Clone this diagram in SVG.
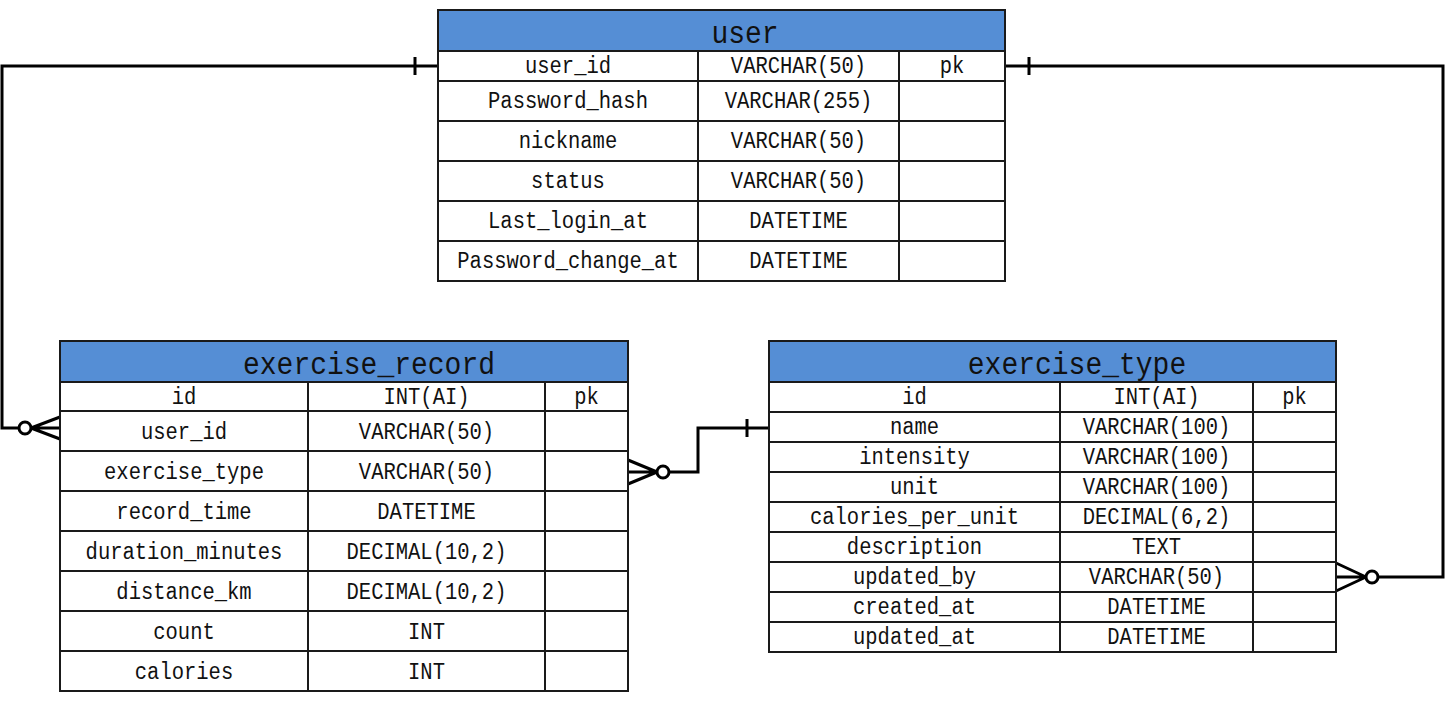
<svg xmlns="http://www.w3.org/2000/svg" width="1445" height="702" viewBox="0 0 1445 702">
<style>
.box{fill:#ffffff;stroke:#1a1a1a;stroke-width:2}
.hdr{fill:#558ed5;stroke:#1a1a1a;stroke-width:2}
.ln{stroke:#1a1a1a;stroke-width:2;fill:none}
.t{font-family:"Liberation Mono","DejaVu Sans Mono",monospace;font-size:23px;fill:#111;text-anchor:middle;dominant-baseline:central}
.ttl{font-family:"Liberation Mono","DejaVu Sans Mono",monospace;font-size:31px;fill:#111;text-anchor:middle;dominant-baseline:central}
.c{stroke:#000;stroke-width:3;fill:none}
.o{stroke:#000;stroke-width:3;fill:#fff}
</style>
<rect width="1445" height="702" fill="#fff"/>

<g id="connectors">
  <path class="c" d="M438,66 H2 V428 H19"/>
  <line class="c" x1="415" y1="57" x2="415" y2="75"/>
  <path class="c" d="M31,428 L60,417 M31,428 L60,428 M31,428 L60,439"/>
  <circle class="o" cx="25" cy="428" r="6"/>

  <path class="c" d="M1005,66 H1443 V577 H1378"/>
  <line class="c" x1="1029" y1="57" x2="1029" y2="75"/>
  <path class="c" d="M1366,577 L1336,563 M1366,577 L1336,577 M1366,577 L1336,591"/>
  <circle class="o" cx="1372" cy="577" r="6"/>

  <path class="c" d="M669,472 H698 V428 H769"/>
  <line class="c" x1="747" y1="419" x2="747" y2="437"/>
  <path class="c" d="M657,472 L628,460 M657,472 L628,472 M657,472 L628,484"/>
  <circle class="o" cx="663" cy="472" r="6"/>
</g>

<g id="user">
  <rect class="box" x="438" y="10" width="567" height="271"/>
  <rect class="hdr" x="438" y="10" width="567" height="41"/>
  <path class="ln" d="M438,81 H1005 M438,121 H1005 M438,161 H1005 M438,201 H1005 M438,241 H1005 M698,51 V281 M899,51 V281"/>
  <text class="ttl" x="745" y="34" textLength="67.2" lengthAdjust="spacingAndGlyphs">user</text>
  <text class="t" x="568" y="67" textLength="86.1" lengthAdjust="spacingAndGlyphs">user_id</text>
  <text class="t" x="798.5" y="67" textLength="135.3" lengthAdjust="spacingAndGlyphs">VARCHAR(50)</text>
  <text class="t" x="952" y="67" textLength="24.6" lengthAdjust="spacingAndGlyphs">pk</text>
  <text class="t" x="568" y="102" textLength="159.9" lengthAdjust="spacingAndGlyphs">Password_hash</text>
  <text class="t" x="798.5" y="102" textLength="147.6" lengthAdjust="spacingAndGlyphs">VARCHAR(255)</text>
  <text class="t" x="568" y="142" textLength="98.4" lengthAdjust="spacingAndGlyphs">nickname</text>
  <text class="t" x="798.5" y="142" textLength="135.3" lengthAdjust="spacingAndGlyphs">VARCHAR(50)</text>
  <text class="t" x="568" y="182" textLength="73.8" lengthAdjust="spacingAndGlyphs">status</text>
  <text class="t" x="798.5" y="182" textLength="135.3" lengthAdjust="spacingAndGlyphs">VARCHAR(50)</text>
  <text class="t" x="568" y="222" textLength="159.9" lengthAdjust="spacingAndGlyphs">Last_login_at</text>
  <text class="t" x="798.5" y="222" textLength="98.4" lengthAdjust="spacingAndGlyphs">DATETIME</text>
  <text class="t" x="568" y="262" textLength="221.4" lengthAdjust="spacingAndGlyphs">Password_change_at</text>
  <text class="t" x="798.5" y="262" textLength="98.4" lengthAdjust="spacingAndGlyphs">DATETIME</text>
</g>

<g id="exercise_record">
  <rect class="box" x="60" y="341" width="568" height="350"/>
  <rect class="hdr" x="60" y="341" width="568" height="41"/>
  <path class="ln" d="M60,411 H628 M60,451 H628 M60,491 H628 M60,531 H628 M60,571 H628 M60,611 H628 M60,651 H628 M308,382 V691 M545,382 V691"/>
  <text class="ttl" x="369" y="365" textLength="252" lengthAdjust="spacingAndGlyphs">exercise_record</text>
  <text class="t" x="184" y="398" textLength="24.6" lengthAdjust="spacingAndGlyphs">id</text>
  <text class="t" x="426.5" y="398" textLength="86.1" lengthAdjust="spacingAndGlyphs">INT(AI)</text>
  <text class="t" x="586.5" y="398" textLength="24.6" lengthAdjust="spacingAndGlyphs">pk</text>
  <text class="t" x="184" y="433" textLength="86.1" lengthAdjust="spacingAndGlyphs">user_id</text>
  <text class="t" x="426.5" y="433" textLength="135.3" lengthAdjust="spacingAndGlyphs">VARCHAR(50)</text>
  <text class="t" x="184" y="473" textLength="159.9" lengthAdjust="spacingAndGlyphs">exercise_type</text>
  <text class="t" x="426.5" y="473" textLength="135.3" lengthAdjust="spacingAndGlyphs">VARCHAR(50)</text>
  <text class="t" x="184" y="513" textLength="135.3" lengthAdjust="spacingAndGlyphs">record_time</text>
  <text class="t" x="426.5" y="513" textLength="98.4" lengthAdjust="spacingAndGlyphs">DATETIME</text>
  <text class="t" x="184" y="553" textLength="196.8" lengthAdjust="spacingAndGlyphs">duration_minutes</text>
  <text class="t" x="426.5" y="553" textLength="159.9" lengthAdjust="spacingAndGlyphs">DECIMAL(10,2)</text>
  <text class="t" x="184" y="593" textLength="135.3" lengthAdjust="spacingAndGlyphs">distance_km</text>
  <text class="t" x="426.5" y="593" textLength="159.9" lengthAdjust="spacingAndGlyphs">DECIMAL(10,2)</text>
  <text class="t" x="184" y="633" textLength="61.5" lengthAdjust="spacingAndGlyphs">count</text>
  <text class="t" x="426.5" y="633" textLength="36.9" lengthAdjust="spacingAndGlyphs">INT</text>
  <text class="t" x="184" y="673" textLength="98.4" lengthAdjust="spacingAndGlyphs">calories</text>
  <text class="t" x="426.5" y="673" textLength="36.9" lengthAdjust="spacingAndGlyphs">INT</text>
</g>

<g id="exercise_type">
  <rect class="box" x="769" y="341" width="567" height="311"/>
  <rect class="hdr" x="769" y="341" width="567" height="41"/>
  <path class="ln" d="M769,412 H1336 M769,442 H1336 M769,472 H1336 M769,502 H1336 M769,532 H1336 M769,562 H1336 M769,592 H1336 M769,622 H1336 M1060,382 V652 M1253,382 V652"/>
  <text class="ttl" x="1077" y="365" textLength="218.4" lengthAdjust="spacingAndGlyphs">exercise_type</text>
  <text class="t" x="914.5" y="398" textLength="24.6" lengthAdjust="spacingAndGlyphs">id</text>
  <text class="t" x="1156.5" y="398" textLength="86.1" lengthAdjust="spacingAndGlyphs">INT(AI)</text>
  <text class="t" x="1294.5" y="398" textLength="24.6" lengthAdjust="spacingAndGlyphs">pk</text>
  <text class="t" x="914.5" y="428" textLength="49.2" lengthAdjust="spacingAndGlyphs">name</text>
  <text class="t" x="1156.5" y="428" textLength="147.6" lengthAdjust="spacingAndGlyphs">VARCHAR(100)</text>
  <text class="t" x="914.5" y="458" textLength="110.7" lengthAdjust="spacingAndGlyphs">intensity</text>
  <text class="t" x="1156.5" y="458" textLength="147.6" lengthAdjust="spacingAndGlyphs">VARCHAR(100)</text>
  <text class="t" x="914.5" y="488" textLength="49.2" lengthAdjust="spacingAndGlyphs">unit</text>
  <text class="t" x="1156.5" y="488" textLength="147.6" lengthAdjust="spacingAndGlyphs">VARCHAR(100)</text>
  <text class="t" x="914.5" y="518" textLength="209.1" lengthAdjust="spacingAndGlyphs">calories_per_unit</text>
  <text class="t" x="1156.5" y="518" textLength="147.6" lengthAdjust="spacingAndGlyphs">DECIMAL(6,2)</text>
  <text class="t" x="914.5" y="548" textLength="135.3" lengthAdjust="spacingAndGlyphs">description</text>
  <text class="t" x="1156.5" y="548" textLength="49.2" lengthAdjust="spacingAndGlyphs">TEXT</text>
  <text class="t" x="914.5" y="578" textLength="123" lengthAdjust="spacingAndGlyphs">updated_by</text>
  <text class="t" x="1156.5" y="578" textLength="135.3" lengthAdjust="spacingAndGlyphs">VARCHAR(50)</text>
  <text class="t" x="914.5" y="608" textLength="123" lengthAdjust="spacingAndGlyphs">created_at</text>
  <text class="t" x="1156.5" y="608" textLength="98.4" lengthAdjust="spacingAndGlyphs">DATETIME</text>
  <text class="t" x="914.5" y="638" textLength="123" lengthAdjust="spacingAndGlyphs">updated_at</text>
  <text class="t" x="1156.5" y="638" textLength="98.4" lengthAdjust="spacingAndGlyphs">DATETIME</text>
</g>
</svg>
